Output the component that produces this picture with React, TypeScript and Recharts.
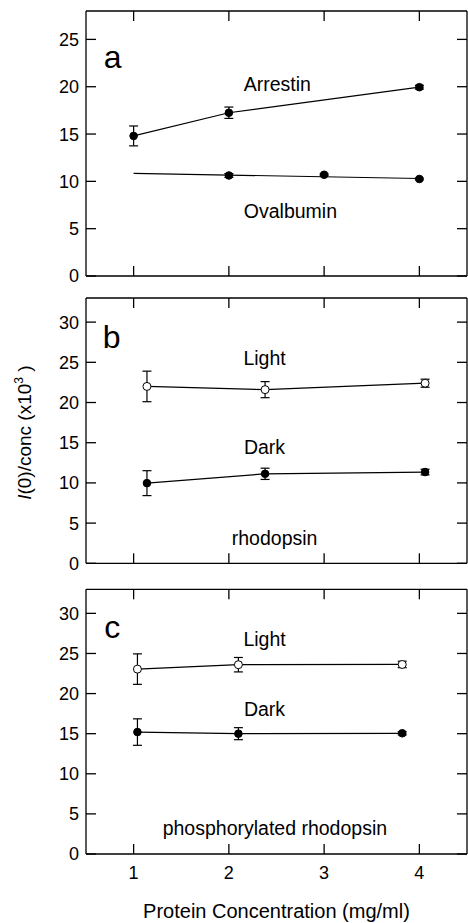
import React from 'react';
import { LineChart, Line, XAxis, YAxis, ErrorBar, ReferenceDot, Label } from 'recharts';

// ---------- data ----------
const xTicks = [1, 2, 3, 4];
const yTicksA = [0, 5, 10, 15, 20, 25];
const yTicksBC = [0, 5, 10, 15, 20, 25, 30];

// panel a
const arrestinX = [1, 2, 4];
const arrestinY = [14.8, 17.25, 19.95];
const arrestinErr = [1.05, 0.6, 0.2];
const ovalbuminX = [2, 3, 4];
const ovalbuminY = [10.62, 10.7, 10.25];
const ovalbuminErr = [0.2, 0.1, 0.1];
const ovalbuminFitX = [1, 4];
const ovalbuminFitY = [10.85, 10.3];

// panel b (rhodopsin)
const rhoX = [1.14, 2.38, 4.06];
const rhoLightY = [22.0, 21.6, 22.4];
const rhoLightErr = [1.9, 1.0, 0.5];
const rhoDarkY = [9.97, 11.13, 11.35];
const rhoDarkErr = [1.55, 0.7, 0.35];

// panel c (phosphorylated rhodopsin)
const phX = [1.04, 2.1, 3.82];
const phLightY = [23.05, 23.6, 23.63];
const phLightErr = [1.9, 0.9, 0.4];
const phDarkY = [15.2, 15.0, 15.05];
const phDarkErr = [1.65, 0.75, 0.2];

// annotations [text, x, y, fontSize]
const notesA: [string, number, number, number][] = [
  ['a', 0.78, 23.14, 32],
  ['Arrestin', 2.508, 20.29, 19.5],
  ['Ovalbumin', 2.646, 6.87, 19.5],
];
const notesB: [string, number, number, number][] = [
  ['b', 0.768, 28.2, 32],
  ['Light', 2.375, 25.56, 19.5],
  ['Dark', 2.374, 14.47, 19.5],
  ['rhodopsin', 2.48, 3.14, 19.5],
];
const notesC: [string, number, number, number][] = [
  ['c', 0.775, 28.4, 32],
  ['Light', 2.375, 26.8, 19.5],
  ['Dark', 2.374, 18.03, 19.5],
  ['phosphorylated rhodopsin', 2.483, 3.24, 19.5],
];

const xTitle = 'Protein Concentration (mg/ml)';

// ---------- helpers ----------
const FONT = '"Liberation Sans", Arial, Helvetica, sans-serif';
const rows = (xs: number[], ys: number[], es?: number[]) =>
  xs.map((x, i) => ({ x, y: ys[i], e: es ? es[i] : 0 }));

const axisStyle = { stroke: '#000', strokeWidth: 1.3 };
const X_DOMAIN: [number, number] = [0.5, 4.5];
const TL = 10; // inward tick length

const LeftTick = (p: any) => (
  <g>
    <line x1={p.x} x2={p.x + TL} y1={p.y} y2={p.y} stroke="#000" strokeWidth={1.3} />
    <text x={p.x - 7} y={p.y} dy="0.36em" textAnchor="end" fontSize={18} fontFamily={FONT} fill="#000">
      {p.payload.value}
    </text>
  </g>
);
const RightTick = (p: any) => (
  <line x1={p.x} x2={p.x - TL} y1={p.y} y2={p.y} stroke="#000" strokeWidth={1.3} />
);
const TopTick = (p: any) => (
  <line x1={p.x} x2={p.x} y1={p.y} y2={p.y + TL} stroke="#000" strokeWidth={1.3} />
);
const BottomTick = (p: any) => (
  <line x1={p.x} x2={p.x} y1={p.y} y2={p.y - TL} stroke="#000" strokeWidth={1.3} />
);
const BottomTickLabeled = (p: any) => (
  <g>
    <line x1={p.x} x2={p.x} y1={p.y} y2={p.y - TL} stroke="#000" strokeWidth={1.3} />
    <text x={p.x} y={p.y + 12} dy="0.72em" textAnchor="middle" fontSize={18} fontFamily={FONT} fill="#000">
      {p.payload.value}
    </text>
  </g>
);

const YLabelContent = (props: any) => {
  const vb = props.viewBox || { x: 0, y: 0, width: 86, height: 0 };
  const cx = vb.x + vb.width - 54.5;
  const cy = vb.y + vb.height / 2 + 2;
  return (
    <text x={cx} y={cy} transform={`rotate(-90, ${cx}, ${cy})`} textAnchor="middle"
      fontSize={19} fontFamily={FONT} fill="#000">
      <tspan fontStyle="italic">I</tspan>
      <tspan>(0)/conc (x10</tspan>
      <tspan dy={-8} fontSize={12}>3</tspan>
      <tspan dy={8}>{'\u00a0)'}</tspan>
    </text>
  );
};

const frameAxes = (yMax: number, yTicks: number[], topH: number, bottomH: number,
  yLabel: boolean, xLabels: boolean) => [
  <XAxis key="xb" xAxisId="b" type="number" dataKey="x" domain={X_DOMAIN} ticks={xTicks}
    orientation="bottom" height={bottomH} tick={xLabels ? BottomTickLabeled : BottomTick}
    tickLine={false} tickSize={0} tickMargin={0} interval={0}
    axisLine={axisStyle} allowDataOverflow>
    {xLabels ? (
      <Label value={xTitle} position="insideBottom" offset={4.7} fontSize={20} fontFamily={FONT} fill="#000" />
    ) : null}
  </XAxis>,
  <XAxis key="xt" xAxisId="t" type="number" dataKey="x" domain={X_DOMAIN} ticks={xTicks}
    orientation="top" height={topH} tick={TopTick} tickLine={false} tickSize={0} tickMargin={0}
    interval={0} axisLine={axisStyle} allowDataOverflow />,
  <YAxis key="yl" yAxisId="l" type="number" domain={[0, yMax]} ticks={yTicks}
    orientation="left" width={86} tick={LeftTick} tickLine={false} tickSize={0} tickMargin={0}
    interval={0} axisLine={axisStyle} allowDataOverflow>
    {yLabel ? <Label content={(p: any) => <YLabelContent {...p} />} /> : null}
  </YAxis>,
  <YAxis key="yr" yAxisId="r" type="number" domain={[0, yMax]} ticks={yTicks}
    orientation="right" width={1} tick={RightTick} tickLine={false} tickSize={0} tickMargin={0}
    interval={0} axisLine={axisStyle} allowDataOverflow />,
];

const notes = (list: [string, number, number, number][]) =>
  list.map(([t, x, y, fs], i) => (
    <ReferenceDot key={'n' + i} xAxisId="b" yAxisId="l" x={x} y={y} r={0}
      fill="none" stroke="none" ifOverflow="visible">
      <Label value={t} position="center" fontSize={fs} fontFamily={FONT} fill="#000" />
    </ReferenceDot>
  ));

const filled = { r: 3.8, fill: '#000', stroke: '#000', strokeWidth: 1 };
const open = { r: 4, fill: '#fff', stroke: '#000', strokeWidth: 1 };

const series = (key: string, data: any[], dot: any, showLine = true, err = true) => (
  <Line key={key} xAxisId="b" yAxisId="l" data={data} dataKey="y" type="linear"
    stroke={showLine ? '#000' : 'none'} strokeWidth={1.2} dot={dot} activeDot={false}
    isAnimationActive={false} legendType="none">
    {err ? <ErrorBar dataKey="e" direction="y" width={4.5} stroke="#000" strokeWidth={1.2} /> : null}
  </Line>
);

const M0 = { top: 0, right: 0, bottom: 0, left: 0 };

export default function App() {
  return (
    <div style={{ position: 'absolute', left: 0, top: 0, width: 468, height: 923, background: '#fff', fontFamily: FONT }}>
      <div style={{ position: 'absolute', left: 0, top: 0 }}>
        <LineChart width={468} height={290} margin={M0}>
          {frameAxes(28, yTicksA, 11, 14, false, false)}
          {series('ovfit', rows(ovalbuminFitX, ovalbuminFitY), false, true, false)}
          {series('ov', rows(ovalbuminX, ovalbuminY, ovalbuminErr), filled, false)}
          {series('arr', rows(arrestinX, arrestinY, arrestinErr), filled)}
          {notes(notesA)}
        </LineChart>
      </div>
      <div style={{ position: 'absolute', left: 0, top: 288 }}>
        <LineChart width={468} height={290} margin={M0}>
          {frameAxes(33, yTicksBC, 10, 14.7, true, false)}
          {series('rl', rows(rhoX, rhoLightY, rhoLightErr), open)}
          {series('rd', rows(rhoX, rhoDarkY, rhoDarkErr), filled)}
          {notes(notesB)}
        </LineChart>
      </div>
      <div style={{ position: 'absolute', left: 0, top: 580 }}>
        <LineChart width={468} height={343} margin={M0}>
          {frameAxes(33, yTicksBC, 9.3, 69, false, true)}
          {series('pl', rows(phX, phLightY, phLightErr), open)}
          {series('pd', rows(phX, phDarkY, phDarkErr), filled)}
          {notes(notesC)}
        </LineChart>
      </div>
    </div>
  );
}
